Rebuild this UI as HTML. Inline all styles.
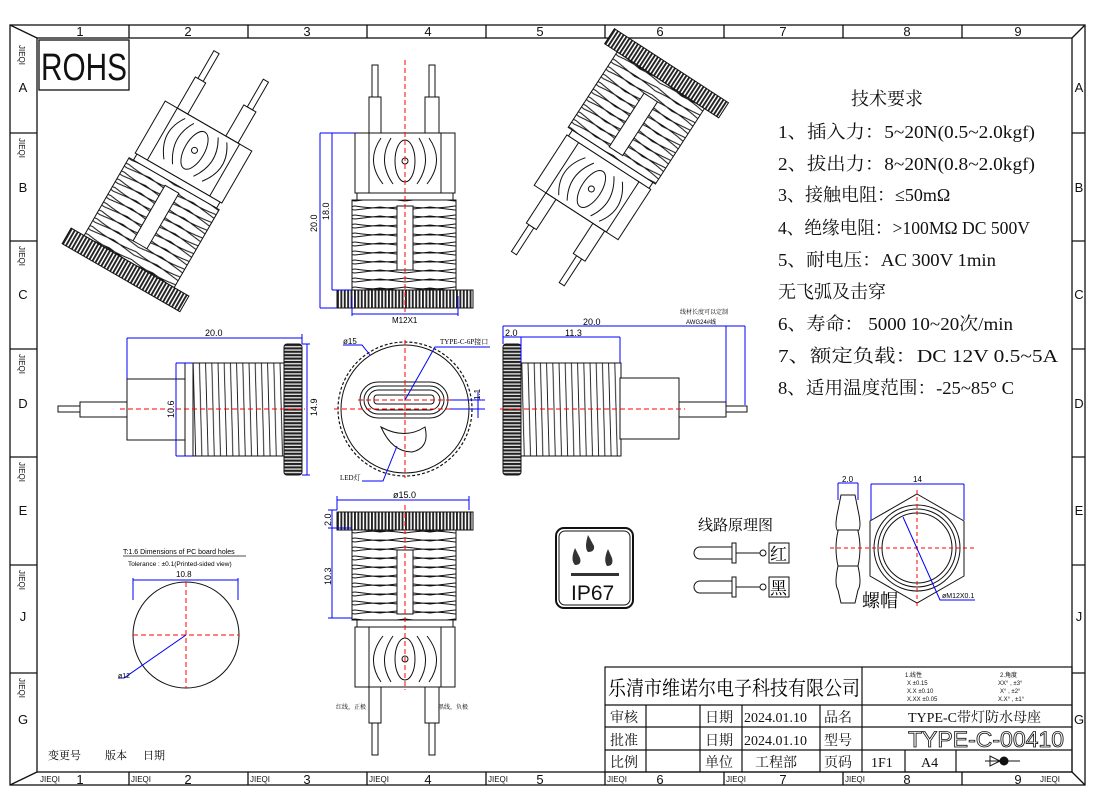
<!DOCTYPE html>
<html><head><meta charset="utf-8"><style>
html,body{margin:0;padding:0;background:#fff}
svg{display:block}
text{font-family:"Liberation Sans","Noto Sans CJK SC",sans-serif}
.cn,.cn text{font-family:"Liberation Serif","Noto Serif CJK SC","Noto Sans CJK SC",serif}
</style></head><body>
<svg width="1100" height="811" viewBox="0 0 1100 811" xmlns="http://www.w3.org/2000/svg">
<defs>
<pattern id="knurlV" patternUnits="userSpaceOnUse" width="3.4" height="20"><rect width="3.4" height="20" fill="#fff"/><rect width="1.9" height="20" fill="#222"/></pattern>
<pattern id="knurlH" patternUnits="userSpaceOnUse" width="20" height="3.4" y="344"><rect width="20" height="3.4" fill="#ddd"/><rect width="20" height="2" fill="#222"/></pattern>
<pattern id="thrH" patternUnits="userSpaceOnUse" width="50" height="9" y="0"><path d="M0 2 Q25 6 50 2 M0 6 L25 3 L50 6" stroke="#111" stroke-width="0.9" fill="none"/></pattern>
<pattern id="thrV" patternUnits="userSpaceOnUse" width="6.2" height="93" y="363"><path d="M1 0 L3.5 93" stroke="#111" stroke-width="0.9"/></pattern>
<g id="part" stroke="#111" stroke-width="1" fill="#fff">
 <rect x="-33" y="-121" width="6" height="32"/><rect x="-36" y="-89" width="12" height="36"/>
 <rect x="24" y="-121" width="6" height="32"/><rect x="20" y="-89" width="14" height="36"/>
 <rect x="-50" y="-53" width="100" height="60"/>
 <rect x="-36" y="-53" width="72" height="60" fill="none"/>
 <path d="M-24 -48 Q-40 -25 -22 -2 M-14 -48 Q-28 -25 -12 -2 M24 -48 Q40 -25 22 -2 M14 -48 Q28 -25 12 -2" fill="none"/>
 <ellipse cx="0" cy="-25" rx="10" ry="21" fill="none"/><circle cx="0" cy="-25" r="3" fill="none"/>
 <rect x="-48" y="7" width="96" height="7"/>
 <rect x="-53" y="14" width="104" height="90" fill="url(#thrH)"/>
 <rect x="-8" y="20" width="16" height="64"/>
 <rect x="-68" y="104" width="136" height="18" fill="url(#knurlV)"/>
</g>
</defs>
<!-- frame -->
<g stroke="#111" fill="none" stroke-width="1.3">
<rect x="10" y="25" width="1075" height="760"/>
<rect x="37" y="38" width="1035" height="734"/>
<line x1="10" y1="25" x2="37" y2="38"/><line x1="1085" y1="25" x2="1072" y2="38"/>
<line x1="10" y1="785" x2="37" y2="772"/><line x1="1085" y1="785" x2="1072" y2="772"/>
<path d="M129 25V38M248 25V38M367 25V38M486 25V38M605 25V38M724 25V38M843 25V38M962 25V38"/>
<path d="M129 772V785M248 772V785M367 772V785M486 772V785M605 772V785M724 772V785M843 772V785M962 772V785"/>
<path d="M10 133H37M10 241H37M10 349H37M10 457H37M10 565H37M10 673H37"/>
<path d="M1072 133H1085M1072 241H1085M1072 349H1085M1072 457H1085M1072 565H1085M1072 673H1085"/>
<rect x="39" y="40" width="90" height="50"/>
</g>
<g font-size="13" text-anchor="middle" fill="#111">
<text x="80" y="36">1</text><text x="188" y="36">2</text><text x="307" y="36">3</text><text x="428" y="36">4</text><text x="540" y="36">5</text><text x="660" y="36">6</text><text x="783" y="36">7</text><text x="907" y="36">8</text><text x="1018" y="36">9</text>
<text x="80" y="784">1</text><text x="188" y="784">2</text><text x="307" y="784">3</text><text x="428" y="784">4</text><text x="540" y="784">5</text><text x="660" y="784">6</text><text x="783" y="784">7</text><text x="907" y="784">8</text><text x="1018" y="784">9</text>
<text x="23" y="92">A</text><text x="23" y="192">B</text><text x="23" y="299">C</text><text x="23" y="408">D</text><text x="23" y="515">E</text><text x="23" y="621">J</text><text x="23" y="724">G</text>
<text x="1079" y="92">A</text><text x="1079" y="192">B</text><text x="1079" y="299">C</text><text x="1079" y="408">D</text><text x="1079" y="515">E</text><text x="1079" y="621">J</text><text x="1079" y="724">G</text>
</g>
<g font-size="8" fill="#111">
<text x="40" y="782">JIEQI</text><text x="131" y="782">JIEQI</text><text x="250" y="782">JIEQI</text><text x="369" y="782">JIEQI</text><text x="488" y="782">JIEQI</text><text x="607" y="782">JIEQI</text><text x="726" y="782">JIEQI</text><text x="845" y="782">JIEQI</text><text x="1040" y="782">JIEQI</text>
<text transform="translate(19,45) rotate(90)">JIEQI</text><text transform="translate(19,138) rotate(90)">JIEQI</text><text transform="translate(19,246) rotate(90)">JIEQI</text><text transform="translate(19,354) rotate(90)">JIEQI</text><text transform="translate(19,462) rotate(90)">JIEQI</text><text transform="translate(19,570) rotate(90)">JIEQI</text><text transform="translate(19,678) rotate(90)">JIEQI</text>
</g>
<text x="41" y="80" font-size="38" fill="#111" textLength="86" lengthAdjust="spacingAndGlyphs">ROHS</text>

<!-- isometric views -->
<use href="#part" transform="translate(182,172) rotate(30)"/>
<use href="#part" transform="translate(605,168) rotate(213) scale(-1,1)"/>

<!-- top view -->
<use href="#part" transform="translate(405,186)"/>
<line x1="405" y1="60" x2="405" y2="312" stroke="red" stroke-dasharray="5,3" stroke-width="1"/>
<g stroke="#00f" fill="none" stroke-width="1">
<path d="M320 133H355M320 308H337M320 133V308M332 133V290M332 290H352"/>
<path d="M352 296V316M458 296V316M352 314H458"/>
</g>
<text transform="translate(317,232) rotate(-90)" font-size="9">20.0</text>
<text transform="translate(329,220) rotate(-90)" font-size="9">18.0</text>
<text x="392" y="323" font-size="8">M12X1</text>

<!-- bottom view -->
<use href="#part" transform="translate(405,632) scale(1,-1) translate(0,-2)"/>
<line x1="405" y1="505" x2="405" y2="690" stroke="red" stroke-dasharray="5,3"/>
<g stroke="#00f" fill="none"><path d="M337 500H469M337 496V510M469 496V510M332 510V528M332 528V618M328 510H337M328 528H352M328 618H352"/></g>
<text x="393" y="498" font-size="9">ø15.0</text>
<text transform="translate(331,526) rotate(-90)" font-size="9">2.0</text>
<text transform="translate(331,585) rotate(-90)" font-size="9">10.3</text>
<text x="336" y="709" font-size="6" class="cn">红线，正极</text>
<text x="438" y="709" font-size="6" class="cn">黑线，负极</text>

<!-- left view -->
<g stroke="#111" fill="#fff">
<rect x="58" y="406" width="22" height="6"/><rect x="80" y="402" width="47" height="15"/>
<rect x="127" y="379" width="59" height="61"/>
<rect x="185" y="363" width="8" height="93"/>
<rect x="193" y="363" width="91" height="93" fill="url(#thrV)"/>
<rect x="284" y="344" width="18" height="131" rx="3" fill="url(#knurlH)"/>
</g>
<line x1="120" y1="409" x2="305" y2="409" stroke="red" stroke-dasharray="5,3"/>
<g stroke="#00f" fill="none"><path d="M127 338H302M127 338V379M302 334V344M176 363V456M176 363H193M176 456H193M307 344V475M302 344H310M302 475H310"/></g>
<text x="205" y="336" font-size="9">20.0</text>
<text transform="translate(174,418) rotate(-90)" font-size="9">10.6</text>
<text transform="translate(317,416) rotate(-90)" font-size="9">14.9</text>

<!-- front view -->
<circle cx="405" cy="409" r="67" fill="#fff" stroke="#111" stroke-width="1.2" stroke-dasharray="3,2"/>
<circle cx="405" cy="409" r="64" fill="none" stroke="#111"/>
<rect x="360" y="382" width="88" height="36" rx="18" fill="none" stroke="#111"/>
<rect x="364" y="386" width="80" height="28" rx="14" fill="none" stroke="#111"/>
<rect x="368" y="390" width="72" height="20" rx="10" fill="none" stroke="#111"/>
<rect x="374" y="395" width="60" height="9" rx="3" fill="none" stroke="#111"/>
<path d="M381 427 Q392 452 412 452 Q430 448 425 427 Q405 440 381 427Z" fill="none" stroke="#111"/>
<path d="M334 409H480M405 340V478M358 400H455" stroke="red" stroke-dasharray="5,3" fill="none"/>
<g stroke="#00f" fill="none"><path d="M343 345H362L370 355M405 400L435 347H490M362 481H383L397 446M450 400H485M450 409H485M478 392V418"/></g>
<text x="343" y="344" font-size="8">ø15</text>
<text x="440" y="344" font-size="7" class="cn">TYPE-C-6P接口</text>
<text x="340" y="480" font-size="7" class="cn">LED灯</text>
<text transform="translate(480,400) rotate(-90)" font-size="8">1.1</text>

<!-- right view -->
<g stroke="#111" fill="#fff">
<rect x="503" y="344" width="18" height="131" rx="3" fill="url(#knurlH)"/>
<rect x="521" y="363" width="100" height="93" fill="url(#thrV)"/>
<rect x="620" y="378" width="59" height="61"/>
<rect x="679" y="402" width="47" height="15"/><rect x="726" y="406" width="21" height="6"/>
</g>
<line x1="500" y1="409" x2="685" y2="409" stroke="red" stroke-dasharray="5,3"/>
<g stroke="#00f" fill="none"><path d="M503 326H726M503 326V344M726 326V402M521 337V363M503 337H620M620 337V363M726 326H745M745 326V405"/></g>
<text x="583" y="325" font-size="9">20.0</text><text x="505" y="336" font-size="9">2.0</text><text x="565" y="336" font-size="9">11.3</text>
<text x="680" y="314" font-size="6" class="cn">线材长度可以定制</text><text x="686" y="324" font-size="6">AWG24#线</text>

<!-- tech text -->
<g class="cn" font-size="18" fill="#111">
<text x="851" y="105">技术要求</text>
<text x="778" y="138" textLength="257" lengthAdjust="spacingAndGlyphs">1、插入力：5~20N(0.5~2.0kgf)</text>
<text x="778" y="170" textLength="257" lengthAdjust="spacingAndGlyphs">2、拔出力：8~20N(0.8~2.0kgf)</text>
<text x="778" y="201">3、接触电阻：≤50mΩ</text>
<text x="778" y="234" textLength="252" lengthAdjust="spacingAndGlyphs">4、绝缘电阻：&gt;100MΩ  DC  500V</text>
<text x="778" y="266" textLength="218" lengthAdjust="spacingAndGlyphs">5、耐电压：AC  300V  1min</text>
<text x="778" y="298">无飞弧及击穿</text>
<text x="778" y="330" textLength="235" lengthAdjust="spacingAndGlyphs">6、寿命： 5000 10~20次/min</text>
<text x="778" y="362" textLength="280" lengthAdjust="spacingAndGlyphs">7、额定负载：DC  12V  0.5~5A</text>
<text x="778" y="394" textLength="236" lengthAdjust="spacingAndGlyphs">8、适用温度范围：-25~85° C</text>
</g>

<!-- IP67 -->
<rect x="556" y="528" width="77" height="80" rx="8" fill="#fff" stroke="#111" stroke-width="2"/>
<rect x="559" y="531" width="71" height="74" rx="6" fill="none" stroke="#111"/>
<path d="M588 535 Q584 548 588 552 Q595 552 594 546Z M575 548 Q570 560 575 565 Q582 565 580 558Z M608 549 Q603 560 607 566 Q614 566 612 558Z" fill="#333"/>
<rect x="571" y="573" width="48" height="3" fill="#333"/>
<text x="571" y="600" font-size="21" fill="#111">IP67</text>

<!-- circuit -->
<text x="698" y="530" font-size="15" class="cn">线路原理图</text>
<g stroke="#111" fill="none">
<path d="M700 547H732V559H700A6 6 0 0 1 700 547Z"/><rect x="732" y="543" width="4" height="20"/><path d="M736 553H760"/><circle cx="763" cy="553" r="3"/><rect x="769" y="543" width="20" height="20"/>
<path d="M700 581H732V593H700A6 6 0 0 1 700 581Z"/><rect x="732" y="577" width="4" height="20"/><path d="M736 587H760"/><circle cx="763" cy="587" r="3"/><rect x="769" y="577" width="20" height="20"/>
</g>
<text x="770" y="560" font-size="17" class="cn">红</text><text x="770" y="594" font-size="17" class="cn">黑</text>

<!-- nut -->
<g stroke="#111" fill="none">
<path d="M841 495H855L858 510Q862 528 858 531Q862 548 858 566Q862 584 858 590L855 603H841L838 590Q834 584 838 566Q834 548 838 531Q834 528 838 510Z"/>
<path d="M838 530H858M838 566H858"/>
<polygon points="917,494 964,521 964,576 917,603 870,576 870,521"/>
<circle cx="917" cy="548" r="43"/><circle cx="917" cy="548" r="39"/><circle cx="917" cy="548" r="35"/>
</g>
<path d="M830 548H975M917 490V608" stroke="red" stroke-dasharray="4,3"/>
<g stroke="#00f" fill="none"><path d="M838 483H858M838 483V500M858 483V500M871 484H964M871 484V520M964 484V520M903 517L940 600H975"/></g>
<text x="842" y="482" font-size="8">2.0</text><text x="913" y="482" font-size="8">14</text>
<text x="942" y="598" font-size="7">øM12X0.1</text>
<text x="862" y="607" font-size="18" class="cn">螺帽</text>

<!-- pcb holes -->
<text x="123" y="554" font-size="7">T:1.6 Dimensions of PC board holes</text>
<line x1="123" y1="556" x2="246" y2="556" stroke="#111" stroke-width="0.8"/>
<text x="128" y="566" font-size="6.5">Tolerance : ±0.1(Printed-sided view)</text>
<text x="176" y="577" font-size="8">10.8</text>
<path d="M133 580H238M133 578V600M238 578V600" stroke="#00f" fill="none"/>
<circle cx="186" cy="635" r="53" fill="none" stroke="#111"/>
<path d="M133 635H239M186 582V688" stroke="red" stroke-dasharray="5,3"/>
<path d="M186 635L124 678H118" stroke="#00f" fill="none"/>
<text x="118" y="678" font-size="7">ø12</text>

<g class="cn" font-size="11"><text x="48" y="759">变更号</text><text x="105" y="759">版本</text><text x="143" y="759">日期</text></g>

<!-- title block -->
<g stroke="#111" fill="none" stroke-width="1.2">
<rect x="605" y="667" width="467" height="105"/>
<path d="M605 705H1072M605 727H1072M605 750H1072M862 667V772M646 705V772M700 705V772M742 705V772M820 705V772M905 750V772M956 750V772"/>
</g>
<text x="608" y="695" font-size="20" class="cn" textLength="252" lengthAdjust="spacingAndGlyphs">乐清市维诺尔电子科技有限公司</text>
<g font-size="6" fill="#111"><text x="905" y="677">1.线性</text><text x="1000" y="677">2.角度</text>
<text x="907" y="685">X       ±0.15</text><text x="998" y="685">XX° , ±3°</text>
<text x="907" y="693">X.X     ±0.10</text><text x="1000" y="693">X° ,  ±2°</text>
<text x="907" y="701">X.XX    ±0.05</text><text x="998" y="701">X.X° , ±1°</text></g>
<g class="cn" font-size="14" fill="#111">
<text x="610" y="722">审核</text><text x="705" y="722">日期</text><text x="744" y="722">2024.01.10</text><text x="824" y="722">品名</text><text x="908" y="722">TYPE-C带灯防水母座</text>
<text x="610" y="745">批准</text><text x="705" y="745">日期</text><text x="744" y="745">2024.01.10</text><text x="824" y="745">型号</text>
<text x="610" y="767">比例</text><text x="705" y="767">单位</text><text x="755" y="767">工程部</text><text x="824" y="767">页码</text><text x="871" y="767">1F1</text><text x="921" y="767">A4</text>
</g>
<text x="908" y="747" font-size="22" fill="#fff" stroke="#111" stroke-width="0.8" textLength="156" lengthAdjust="spacingAndGlyphs">TYPE-C-00410</text>
<g stroke="#111" fill="none"><path d="M985 761H1020M990 756V766L1000 761Z"/><circle cx="1004" cy="761" r="4" fill="#111"/></g>
</svg>
</body></html>
